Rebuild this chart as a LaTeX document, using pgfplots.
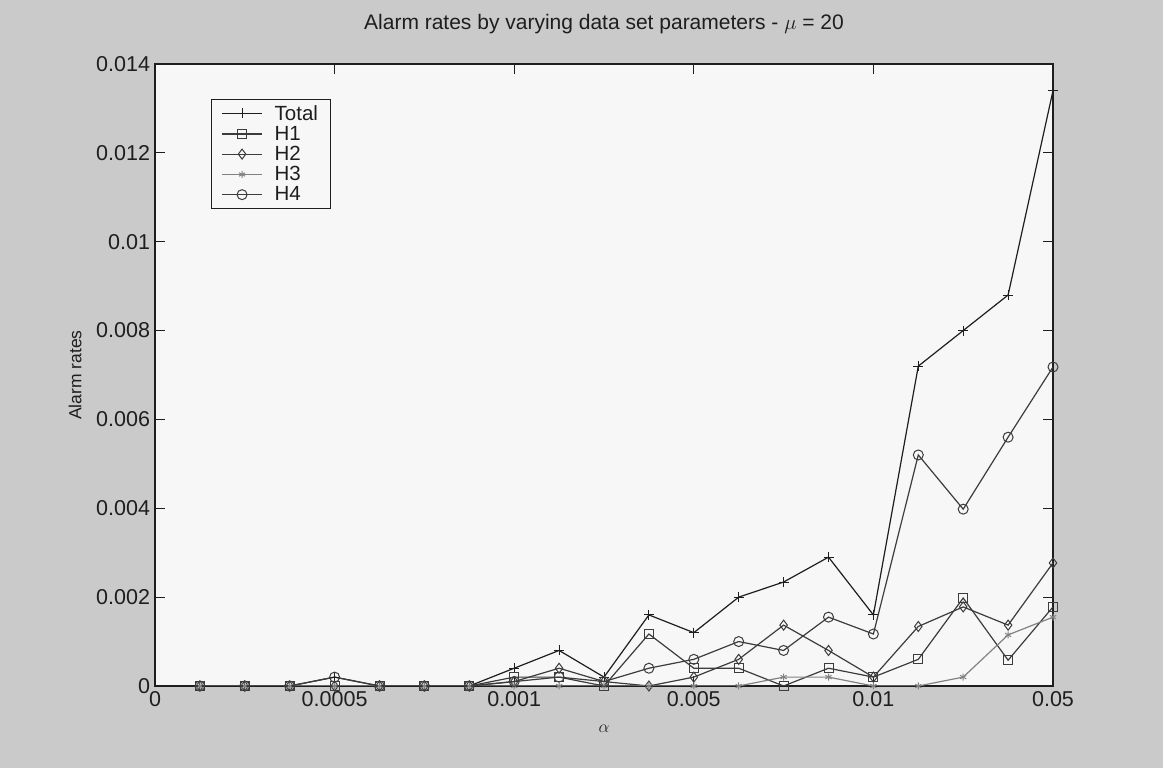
\documentclass[border=0pt]{standalone}
\usepackage{fontspec}
\setmainfont{Liberation Sans}
\usepackage{pgfplots}
\usepackage{pgfplotstable}
\pgfplotsset{compat=1.18}

\definecolor{pagegray}{RGB}{202,202,202}
\definecolor{plotbg}{RGB}{247,247,247}
\definecolor{ink}{RGB}{30,30,30}
\definecolor{midink}{RGB}{60,60,60}
\definecolor{lightink}{RGB}{130,130,130}

% alarm rates per alpha setting (index 1..20)
\pgfplotstableread{
idx total   h1      h2      h3      h4
1   0       0       0       0       0
2   0       0       0       0       0
3   0       0       0       0       0
4   0.0002  0       0       0       0.0002
5   0       0       0       0       0
6   0       0       0       0       0
7   0       0       0       0       0
8   0.0004  0.0002  0.0001  0       0.0001
9   0.0008  0.0002  0.0004  0       0.0002
10  0.0002  0       0.0001  0       0.0001
11  0.0016  0.00117 0       0       0.0004
12  0.0012  0.0004  0.0002  0       0.0006
13  0.0020  0.0004  0.0006  0       0.0010
14  0.00234 0       0.00137 0.0002  0.0008
15  0.0029  0.0004  0.0008  0.0002  0.00155
16  0.0016  0.0002  0.0002  0       0.00117
17  0.0072  0.0006  0.00134 0       0.0052
18  0.0080  0.00198 0.00178 0.0002  0.00398
19  0.0088  0.00058 0.00137 0.00115 0.0056
20  0.0134  0.00178 0.00277 0.00155 0.00718
}\rates

\begin{document}
\begin{tikzpicture}
\fill[pagegray] (0,0) rectangle (1163pt,768pt);
\begin{axis}[
  at={(155pt,82pt)}, anchor=south west,
  scale only axis, width=898pt, height=622pt,
  xmin=0, xmax=20, ymin=0, ymax=0.014,
  axis background/.style={fill=plotbg},
  axis line style={ink, line width=1.1pt},
  tick align=inside, major tick length=10pt,
  tick style={ink, line width=1pt},
  xtick={0,4,8,12,16,20},
  xticklabels={0,0.0005,0.001,0.005,0.01,0.05},
  ytick={0,0.002,0.004,0.006,0.008,0.010,0.012,0.014},
  yticklabels={0,0.002,0.004,0.006,0.008,0.01,0.012,0.014},
  scaled y ticks=false,
  /pgf/number format/assume math mode=true,
  tick label style={font=\fontsize{21.5}{24}\selectfont, text=ink},
  xticklabel style={yshift=-2pt},
  yticklabel style={xshift=-1.5pt},
  title={Alarm rates by varying data set parameters - $\mu$ = 20},
  title style={font=\fontsize{21}{24}\selectfont, text=ink,
    at={(axis description cs:0.5,1.046)}, anchor=base},
  xlabel={$\alpha$},
  xlabel style={font=\fontsize{19}{22}\selectfont, text=ink,
    at={(axis description cs:0.5,0)}, anchor=north, yshift=-36pt},
  ylabel={Alarm rates},
  ylabel style={font=\fontsize{17.5}{20}\selectfont, text=ink,
    at={(axis description cs:-0.089,0.5)}, anchor=center},
  legend style={at={(axis description cs:0.0624,0.944)}, anchor=north west,
    draw=ink, fill=plotbg, line width=0.9pt,
    font=\fontsize{20.5}{22}\selectfont, text=ink,
    row sep=0.5pt, inner xsep=10pt, inner ysep=4pt,
    nodes={inner sep=2pt}},
  legend cell align=left,
  legend image code/.code={
    \draw[mark repeat=2, mark phase=2]
      plot coordinates {(0pt,0pt) (20pt,0pt) (40pt,0pt)};
    \path (50pt,0pt);},
  every axis plot/.append style={line width=1.2pt, mark options={solid, line width=1pt}},
]
\addplot[ink, mark=+, mark size=5pt] table[x=idx, y=total] {\rates};
\addlegendentry{Total}
\addplot[midink, mark=square, mark size=4.5pt] table[x=idx, y=h1] {\rates};
\addlegendentry{H1}
\addplot[midink, mark=diamond, mark size=5pt] table[x=idx, y=h2] {\rates};
\addlegendentry{H2}
\addplot[lightink, mark=asterisk, mark size=3.5pt] table[x=idx, y=h3] {\rates};
\addlegendentry{H3}
\addplot[midink, mark=o, mark size=5pt] table[x=idx, y=h4] {\rates};
\addlegendentry{H4}
\end{axis}
\end{tikzpicture}
\end{document}
